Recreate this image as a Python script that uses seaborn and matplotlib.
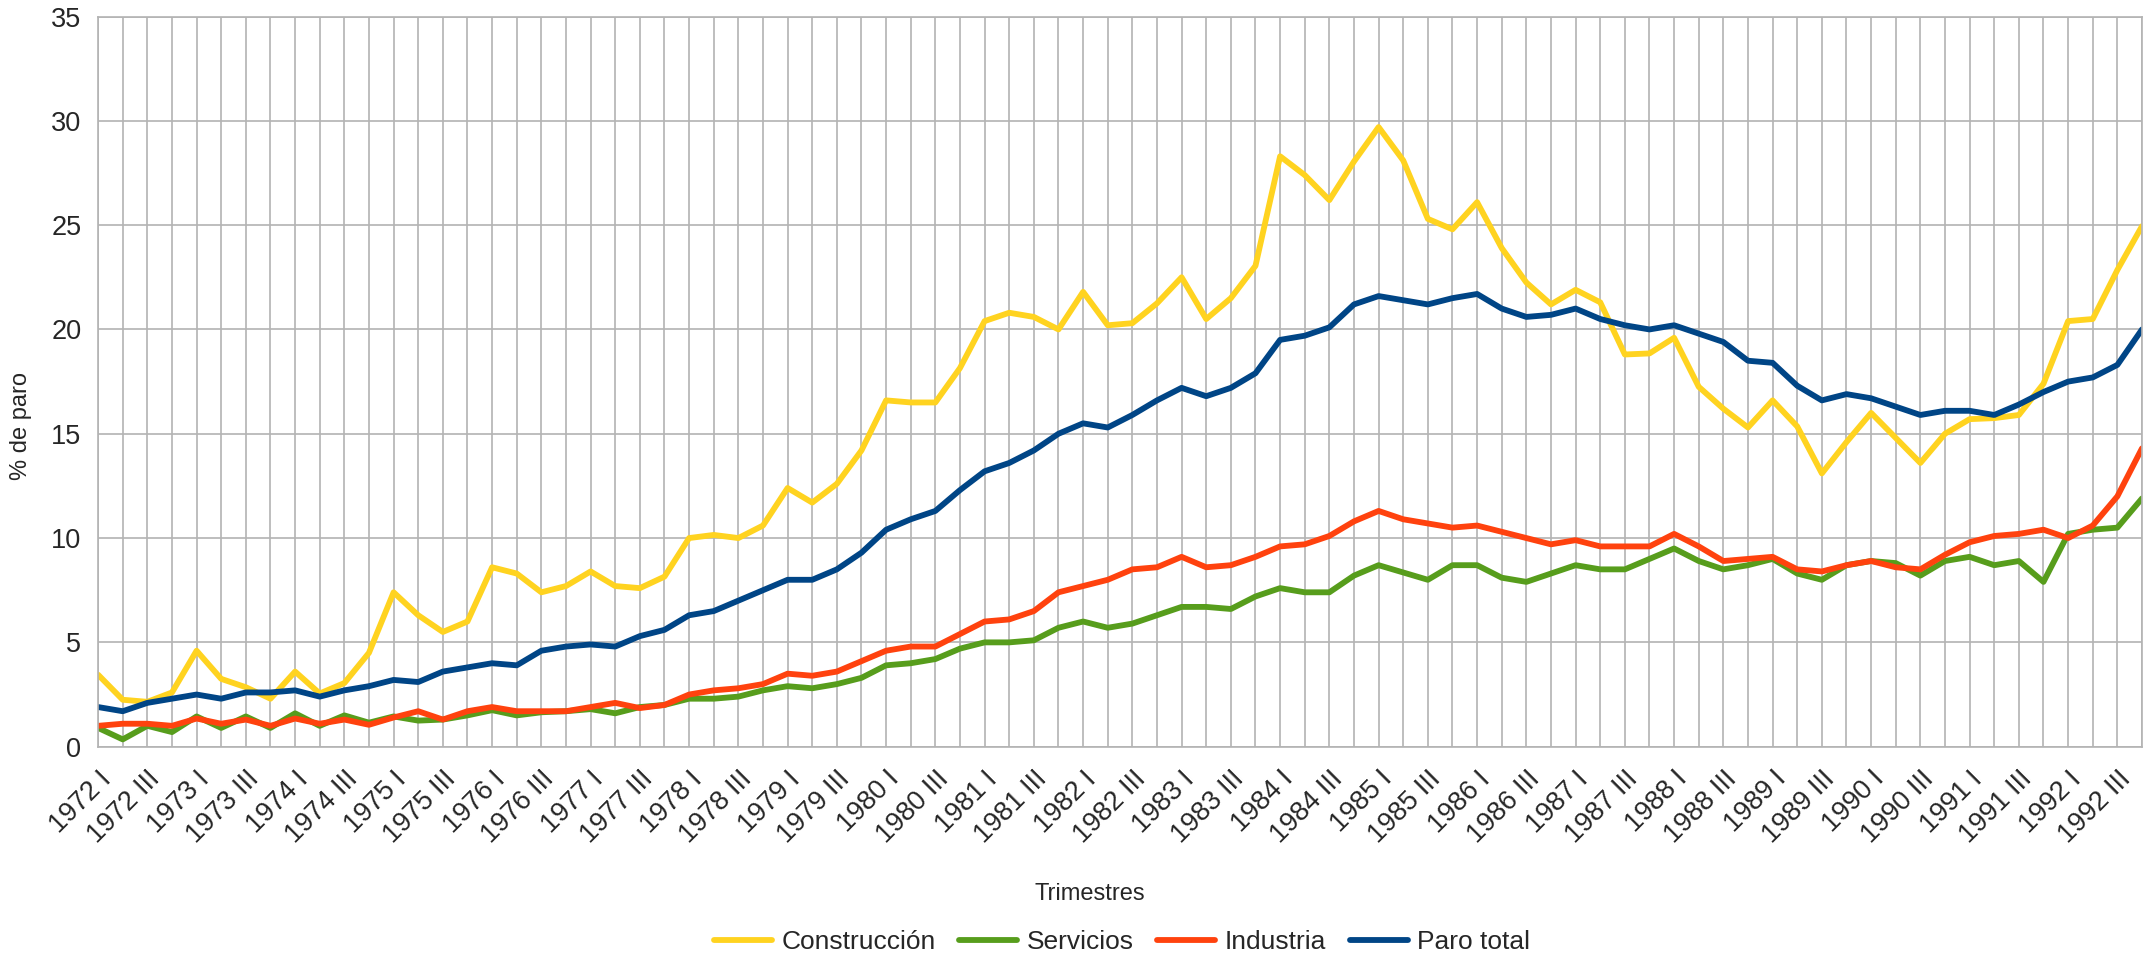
import numpy as np
import pandas as pd
import matplotlib
matplotlib.use("Agg")
import matplotlib.pyplot as plt
import seaborn as sns

# Trimestres 1972 I - 1992 IV
years = list(range(1972, 1993))
quarters = ["I", "II", "III", "IV"]
trimestres = [f"{y} {q}" for y in years for q in quarters]

construccion = [3.45, 2.25, 2.15, 2.6, 4.6, 3.25, 2.85, 2.3, 3.6, 2.55,
                3.05, 4.5, 7.4, 6.3, 5.5, 6.0, 8.6, 8.3, 7.4, 7.7,
                8.4, 7.7, 7.6, 8.15, 10.0, 10.15, 10.0, 10.6, 12.4, 11.7,
                12.6, 14.2, 16.6, 16.5, 16.5, 18.15, 20.4, 20.8, 20.6, 20.0,
                21.8, 20.2, 20.3, 21.25, 22.5, 20.5, 21.5, 23.05, 28.3, 27.4,
                26.2, 28.05, 29.7, 28.1, 25.3, 24.8, 26.1, 23.9, 22.25, 21.2,
                21.9, 21.3, 18.8, 18.85, 19.6, 17.25, 16.2, 15.3, 16.6, 15.35,
                13.1, 14.6, 16.0, 14.8, 13.6, 15.0, 15.7, 15.75, 15.9, 17.4,
                20.4, 20.5, 22.85, 24.95]

servicios = [0.9, 0.35, 1.0, 0.7, 1.45, 0.9, 1.45, 0.9, 1.6, 1.0,
             1.5, 1.15, 1.45, 1.25, 1.3, 1.5, 1.75, 1.5, 1.65, 1.7,
             1.8, 1.6, 1.9, 2.0, 2.3, 2.3, 2.4, 2.7, 2.9, 2.8,
             3.0, 3.3, 3.9, 4.0, 4.2, 4.7, 5.0, 5.0, 5.1, 5.7,
             6.0, 5.7, 5.9, 6.3, 6.7, 6.7, 6.6, 7.2, 7.6, 7.4,
             7.4, 8.2, 8.7, 8.35, 8.0, 8.7, 8.7, 8.1, 7.9, 8.3,
             8.7, 8.5, 8.5, 9.0, 9.5, 8.9, 8.5, 8.7, 9.0, 8.3,
             8.0, 8.7, 8.9, 8.8, 8.2, 8.9, 9.1, 8.7, 8.9, 7.9,
             10.2, 10.4, 10.5, 11.9]

industria = [1.0, 1.1, 1.1, 1.0, 1.35, 1.1, 1.3, 1.0, 1.35, 1.1,
             1.3, 1.05, 1.4, 1.7, 1.3, 1.7, 1.9, 1.7, 1.7, 1.7,
             1.9, 2.1, 1.85, 2.0, 2.5, 2.7, 2.8, 3.0, 3.5, 3.4,
             3.6, 4.1, 4.6, 4.8, 4.8, 5.4, 6.0, 6.1, 6.5, 7.4,
             7.7, 8.0, 8.5, 8.6, 9.1, 8.6, 8.7, 9.1, 9.6, 9.7,
             10.1, 10.8, 11.3, 10.9, 10.7, 10.5, 10.6, 10.3, 10.0, 9.7,
             9.9, 9.6, 9.6, 9.6, 10.2, 9.6, 8.9, 9.0, 9.1, 8.5,
             8.4, 8.7, 8.9, 8.6, 8.5, 9.2, 9.8, 10.1, 10.2, 10.4,
             10.0, 10.6, 12.0, 14.3]

paro_total = [1.9, 1.7, 2.1, 2.3, 2.5, 2.3, 2.6, 2.6, 2.7, 2.4,
              2.7, 2.9, 3.2, 3.1, 3.6, 3.8, 4.0, 3.9, 4.6, 4.8,
              4.9, 4.8, 5.3, 5.6, 6.3, 6.5, 7.0, 7.5, 8.0, 8.0,
              8.5, 9.3, 10.4, 10.9, 11.3, 12.3, 13.2, 13.6, 14.2, 15.0,
              15.5, 15.3, 15.9, 16.6, 17.2, 16.8, 17.2, 17.9, 19.5, 19.7,
              20.1, 21.2, 21.6, 21.4, 21.2, 21.5, 21.7, 21.0, 20.6, 20.7,
              21.0, 20.5, 20.2, 20.0, 20.2, 19.8, 19.4, 18.5, 18.4, 17.3,
              16.6, 16.9, 16.7, 16.3, 15.9, 16.1, 16.1, 15.9, 16.4, 17.0,
              17.5, 17.7, 18.3, 20.0]

series = {
    "Construcción": construccion,
    "Servicios": servicios,
    "Industria": industria,
    "Paro total": paro_total,
}
colores = ["#ffd320", "#579d1c", "#ff420e", "#004586"]

df = pd.concat(
    [pd.DataFrame({"trimestre": trimestres, "paro": v, "serie": k})
     for k, v in series.items()],
    ignore_index=True,
)

sns.set_style("white")
plt.rcParams["font.family"] = ["Liberation Sans", "DejaVu Sans"]

fig = plt.figure(figsize=(21.56, 9.6), dpi=100)
ax = fig.add_axes([0.0455, 0.2222, 0.948, 0.7606])

sns.lineplot(data=df, x="trimestre", y="paro", hue="serie",
             palette=colores, linewidth=4.2, sort=False, ax=ax,
             legend=True)

grid_col = "#b3b3b3"
ax.set_xlim(0, len(trimestres) - 1)
ax.set_ylim(0, 35)
ax.set_yticks(range(0, 36, 5))
ax.set_xticks(range(len(trimestres)))
ax.set_xticklabels([t if i % 2 == 0 else "" for i, t in enumerate(trimestres)],
                   rotation=45, ha="right", va="top", rotation_mode="anchor",
                   fontsize=19.5)
ax.tick_params(axis="y", labelsize=19.5, length=8, color=grid_col, pad=4)
ax.tick_params(axis="x", length=10, color=grid_col, pad=4)
ax.grid(True, color=grid_col, linewidth=1.2)
ax.set_axisbelow(True)
for s in ax.spines.values():
    s.set_color(grid_col)
    s.set_linewidth(1.2)

ax.set_xlabel("Trimestres", fontsize=17, ha="center", va="center")
ax.xaxis.set_label_coords(0.485, -0.2017)
ax.set_ylabel("% de paro", fontsize=17, ha="center", va="center")
ax.yaxis.set_label_coords(-0.0379, 0.439)

handles, labels = ax.get_legend_handles_labels()
ax.legend(handles, labels, loc="center", bbox_to_anchor=(0.5204, 0.019),
          bbox_transform=fig.transFigure, ncol=4, frameon=False,
          fontsize=19, handlelength=2.2, columnspacing=0.9, handletextpad=0.35,
          borderpad=0)

fig.savefig("out.png", dpi=100)
